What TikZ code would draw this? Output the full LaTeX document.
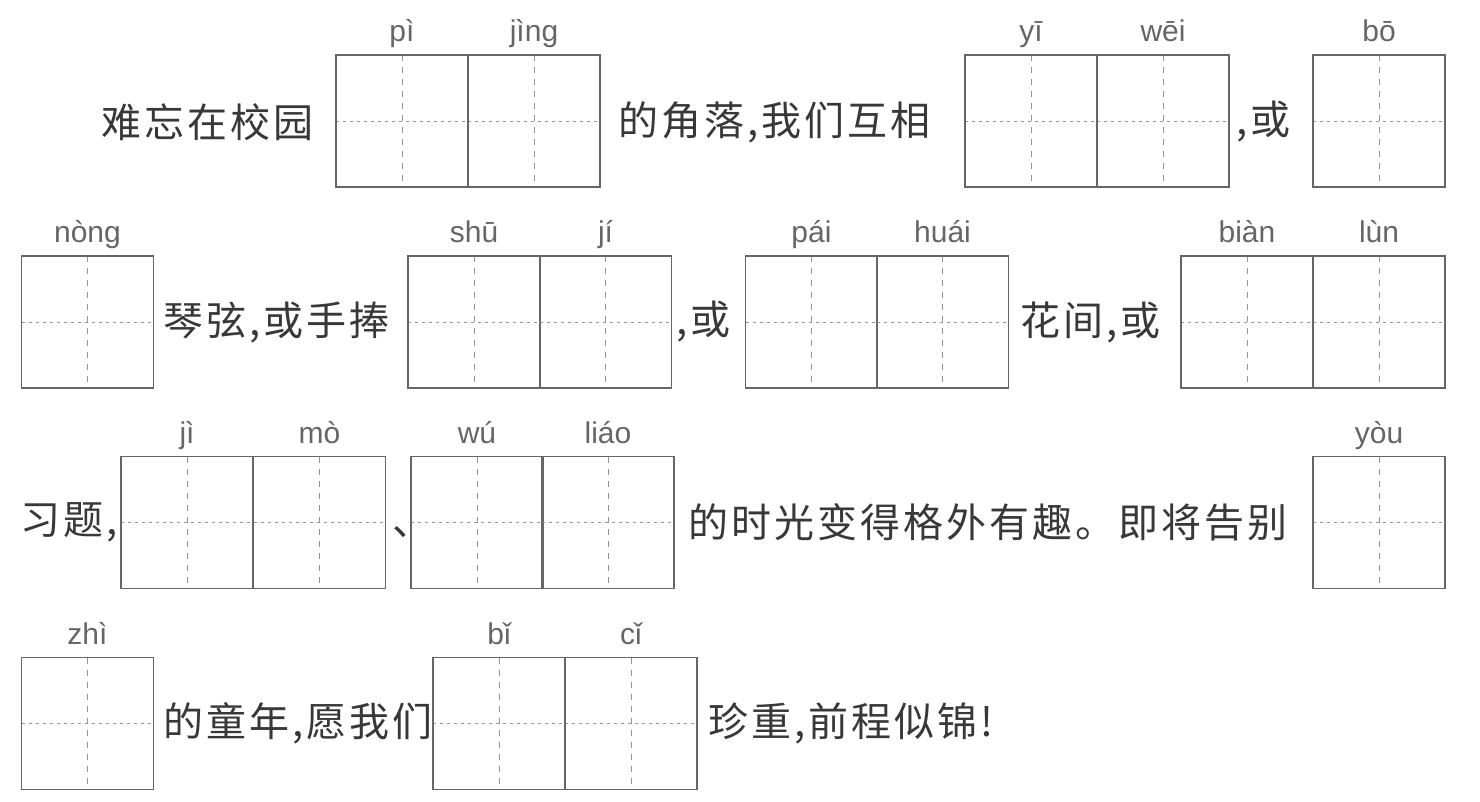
\documentclass[tikz,border=0pt]{standalone}
\usepackage{fontspec}
\newfontfamily\cjk[LetterSpace=7.5]{Noto Sans CJK SC}
\newfontfamily\pyfont{Liberation Sans}
\definecolor{boxgray}{gray}{0.4}
\definecolor{guidegray}{gray}{0.58}
\definecolor{pygray}{gray}{0.4}
\definecolor{txtgray}{gray}{0.22}
\tikzset{
  cellbox/.style={minimum width=132pt, minimum height=132pt, inner sep=0pt, outer sep=0pt},
  border/.style={draw=boxgray, line width=1.4pt},
  guideh/.style={draw=guidegray, line width=0.8pt, dash pattern=on 3pt off 4pt},
  guidev/.style={draw=guidegray, line width=0.8pt, dash pattern=on 6pt off 6pt},
  py/.style={font=\pyfont\fontsize{30}{30}\selectfont, text=pygray, inner sep=0pt, anchor=base},
  txt/.style={font=\cjk\fontsize{40}{40}\selectfont, text=txtgray, inner sep=0pt, anchor=west},
}
\newcommand\tzg[4]{%
  \path node[cellbox] (#1) at (#2,#3) {};
  \draw[guidev] (#1.north) -- (#1.south);
  \draw[guideh] (#1.west) -- (#1.east);
  \draw[border] (#1.north west) rectangle (#1.south east);
  \node[py] (#1py) at ([yshift=13pt]#1.north) {#4};
}
\begin{document}
\begin{tikzpicture}[x=1pt,y=-1pt]
\useasboundingbox[fill=white] (0,0) rectangle (1480,802);
% row 1
\node[txt] (t1a) at (101,122) {难忘在校园};
\tzg{c1}{402}{121}{pì}
\tzg{c2}{534}{121}{jìng}
\node[txt] (t1b) at (618,122) {的角落,我们互相};
\tzg{c3}{1031}{121}{yī}
\tzg{c4}{1163}{121}{wēi}
\node[txt] (t1c) at (1236,122) {,或};
\tzg{c5}{1379}{121}{bō}
% row 2
\tzg{c6}{87.5}{322}{nòng}
\node[txt] (t2a) at (163,322) {琴弦,或手捧};
\tzg{c7}{474}{322}{shū}
\tzg{c8}{605.5}{322}{jí}
\node[txt] (t2b) at (676,322) {,或};
\tzg{c9}{811.5}{322}{pái}
\tzg{c10}{942.5}{322}{huái}
\node[txt] (t2c) at (1020,322) {花间,或};
\tzg{c11}{1247}{322}{biàn}
\tzg{c12}{1379}{322}{lùn}
% row 3
\node[txt] (t3a) at (20,522) {习题,};
\tzg{c13}{187}{522.5}{jì}
\tzg{c14}{319.5}{522.5}{mò}
\node[txt] (t3b) at (392,532) {、};
\tzg{c15}{477}{522.5}{wú}
\tzg{c16}{608}{522.5}{liáo}
\node[txt] (t3c) at (688,522) {的时光变得格外有趣。即将告别};
\tzg{c17}{1379}{522.5}{yòu}
% row 4
\tzg{c18}{87.5}{723.5}{zhì}
\node[txt] (t4a) at (163,723) {的童年,愿我们};
\tzg{c19}{499}{723.5}{bǐ}
\tzg{c20}{631}{723.5}{cǐ}
\node[txt] (t4b) at (708,723) {珍重,前程似锦!};
\end{tikzpicture}
\end{document}
